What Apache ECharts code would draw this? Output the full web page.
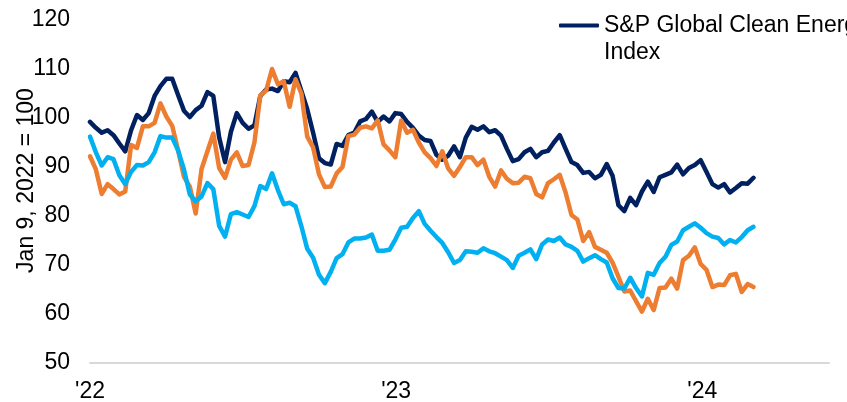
<!DOCTYPE html>
<html>
<head>
<meta charset="utf-8">
<script src="https://cdn.jsdelivr.net/npm/echarts@6/dist/echarts.min.js"></script>
<style>
  html, body { margin: 0; padding: 0; background: #ffffff; }
  #chart { width: 847px; height: 402px; }
</style>
</head>
<body>
<div id="chart"></div>
<script>
// weekly closes, rebased to Jan 9, 2022 = 100
// x = days since Jan 9, 2022
const yearTickDays = [0, 365, 730];
const yearTickLabels = ["'22", "'23", "'24"];
const axisEndDay = 881;

const cleanEnergy = [
  99.2, 98, 97, 97.5, 96.5, 94.8, 93.2, 97.5, 100.6, 99.6,
  101, 104.5, 106.5, 108, 108, 104.7, 101.5, 100.2, 101.6, 102.5,
  105.3, 104.5, 96, 91, 97.2, 101, 99, 97.8, 98.5, 104.5,
  105.8, 106, 105.5, 107.5, 107.3, 109.2, 105.5, 101.8, 97, 91.8,
  90.8, 90.5, 94.7, 94.3, 96.5, 97, 99.3, 99.8, 101.3, 99.2,
  100.3, 99.3, 101, 100.8, 99.2, 98, 96.4, 95.5, 95.3, 92.5,
  91.5, 92.3, 94.2, 92, 96, 98.2, 97.6, 98.3, 97.1, 97.5,
  96.4, 93.7, 91.2, 91.6, 93, 93.7, 92, 93, 93.3, 95,
  96.5, 93.7, 91, 90.4, 88.8, 89, 87.7, 88.4, 90.6, 88.2,
  82.2, 81, 83.7, 82.2, 85, 87, 84.9, 87.9, 88.4, 88.9,
  90.5, 88.5, 89.8, 90.4, 91.4, 89, 86.5, 85.8, 86.5, 84.8,
  85.7, 86.7, 86.6, 87.8
];

const orangeSeries = [
  92.2, 89.5, 84.5, 86.5, 85.5, 84.4, 85, 94.5, 93.9, 98.3,
  98.3, 99, 103, 100.3, 98.4, 93.4, 88, 86, 80.5, 89.6,
  93.2, 96.8, 89.8, 87.8, 91.5, 93, 90.2, 90.4, 95, 104.6,
  105.6, 110, 106.9, 107.5, 102.3, 107.9, 105, 96.2, 94, 88.5,
  85.9, 86, 88.7, 90, 96.3, 96.6, 98, 98.3, 97.9, 99.5,
  94.6, 93.4, 92, 99.5, 97, 97.6, 95, 93, 91.8, 90.2,
  93.2, 89.7, 88.2, 90, 92, 92, 90.4, 91.5, 88, 86,
  89.3, 87.6, 86.7, 86.8, 88, 87.7, 84.5, 83.8, 86.7, 87.5,
  88.4, 84.8, 80.2, 79.3, 74.9, 76.7, 73.7, 73.1, 72.5, 70.5,
  67.6, 64.6, 64.8, 62.6, 60.5, 63.1, 60.8, 65.3, 65.4, 67.2,
  65.2, 71, 71.9, 73.6, 70.2, 69, 65.5, 66, 65.9, 67.9,
  68.2, 64.5, 66.1, 65.5
];

const blueSeries = [
  96.2, 93, 90.3, 92, 91.6, 88.3, 86.5, 89, 90.4, 90.3,
  91, 93, 96.3, 96, 96, 93.4, 89.5, 84.4, 83, 84,
  86.7, 85.5, 78, 75.8, 80.4, 80.8, 80.3, 79.8, 82, 86.1,
  85.5, 88.7, 85.3, 82.4, 82.7, 82, 77.9, 73.3, 71.5, 68,
  66.3, 68.6, 71.4, 72.2, 74.6, 75.4, 75.4, 75.6, 76.2, 72.9,
  72.9, 73.1, 75.2, 77.6, 77.8, 79.6, 81, 78.4, 77, 75.7,
  74.5, 72.6, 70.4, 71, 72.8, 72.7, 72.5, 73.4, 72.8, 72.4,
  71.7, 71, 69.4, 71.9, 72.5, 73.2, 71.2, 74.2, 75.2, 74.9,
  75.6, 74.2, 73.7, 72.9, 70.7, 71.4, 72, 71.2, 70.5, 67.3,
  65.3, 65.2, 67.4, 65.3, 63.6, 68.4, 68, 70.4, 71.7, 74.1,
  74.8, 77.1, 77.8, 78.5, 77.6, 76.5, 75.8, 75.5, 74.2, 75.1,
  74.6, 75.7, 77.1, 77.8
];

// one point per week
const toPairs = (vals) => vals.map((v, i) => [i * 7, v]);

const FONT = 'Arial, "Liberation Sans", sans-serif';
const FS = 23;

const chart = echarts.init(document.getElementById('chart'), null, { renderer: 'canvas' });

const option = {
  backgroundColor: '#ffffff',
  animation: false,
  grid: {
    left: 90, right: 18, top: 20, bottom: 39,
    containLabel: false,
    outerBoundsMode: 'none'
  },
  legend: {
    data: ['S&P Global Clean Energy Index'],
    left: 559,
    top: -15,
    padding: 0,
    icon: 'roundRect',
    itemWidth: 40,
    itemHeight: 4,
    // empty first line keeps the icon level with the first text line
    formatter: () => '\nS&P Global Clean Energy\nIndex',
    textStyle: {
      color: '#000000',
      fontSize: FS,
      fontFamily: FONT,
      lineHeight: 27
    }
  },
  xAxis: {
    type: 'value',
    min: 0,
    max: axisEndDay,
    axisLine: { show: true, lineStyle: { color: '#d9d9d9', width: 2 } },
    axisTick: { show: false },
    splitLine: { show: false },
    axisLabel: {
      customValues: yearTickDays,
      formatter: (v) => yearTickLabels[yearTickDays.indexOf(v)] || '',
      color: '#000000',
      fontSize: FS,
      fontFamily: FONT,
      margin: 17
    }
  },
  yAxis: {
    type: 'value',
    min: 50,
    max: 120,
    interval: 10,
    name: 'Jan 9, 2022 = 100',
    nameLocation: 'middle',
    nameGap: 52,
    nameMoveOverlap: false,
    nameTextStyle: {
      color: '#000000',
      fontSize: FS,
      fontFamily: FONT,
      padding: [0, 0, 0, 22]
    },
    axisLine: { show: false },
    axisTick: { show: false },
    splitLine: { show: false },
    axisLabel: {
      color: '#000000',
      fontSize: FS,
      fontFamily: FONT,
      margin: 20
    }
  },
  series: [
    {
      name: 'S&P Global Clean Energy Index',
      type: 'line',
      data: toPairs(cleanEnergy),
      symbol: 'none',
      lineStyle: { color: '#002060', width: 4.5, cap: 'round', join: 'round' },
      itemStyle: { color: '#002060' },
      z: 2
    },
    {
      name: 'Orange',
      type: 'line',
      data: toPairs(orangeSeries),
      symbol: 'none',
      lineStyle: { color: '#ed7d31', width: 4.5, cap: 'round', join: 'round' },
      itemStyle: { color: '#ed7d31' },
      z: 3
    },
    {
      name: 'Light blue',
      type: 'line',
      data: toPairs(blueSeries),
      symbol: 'none',
      lineStyle: { color: '#00b0f0', width: 4.5, cap: 'round', join: 'round' },
      itemStyle: { color: '#00b0f0' },
      z: 4
    }
  ]
};

chart.setOption(option);
</script>
</body>
</html>
